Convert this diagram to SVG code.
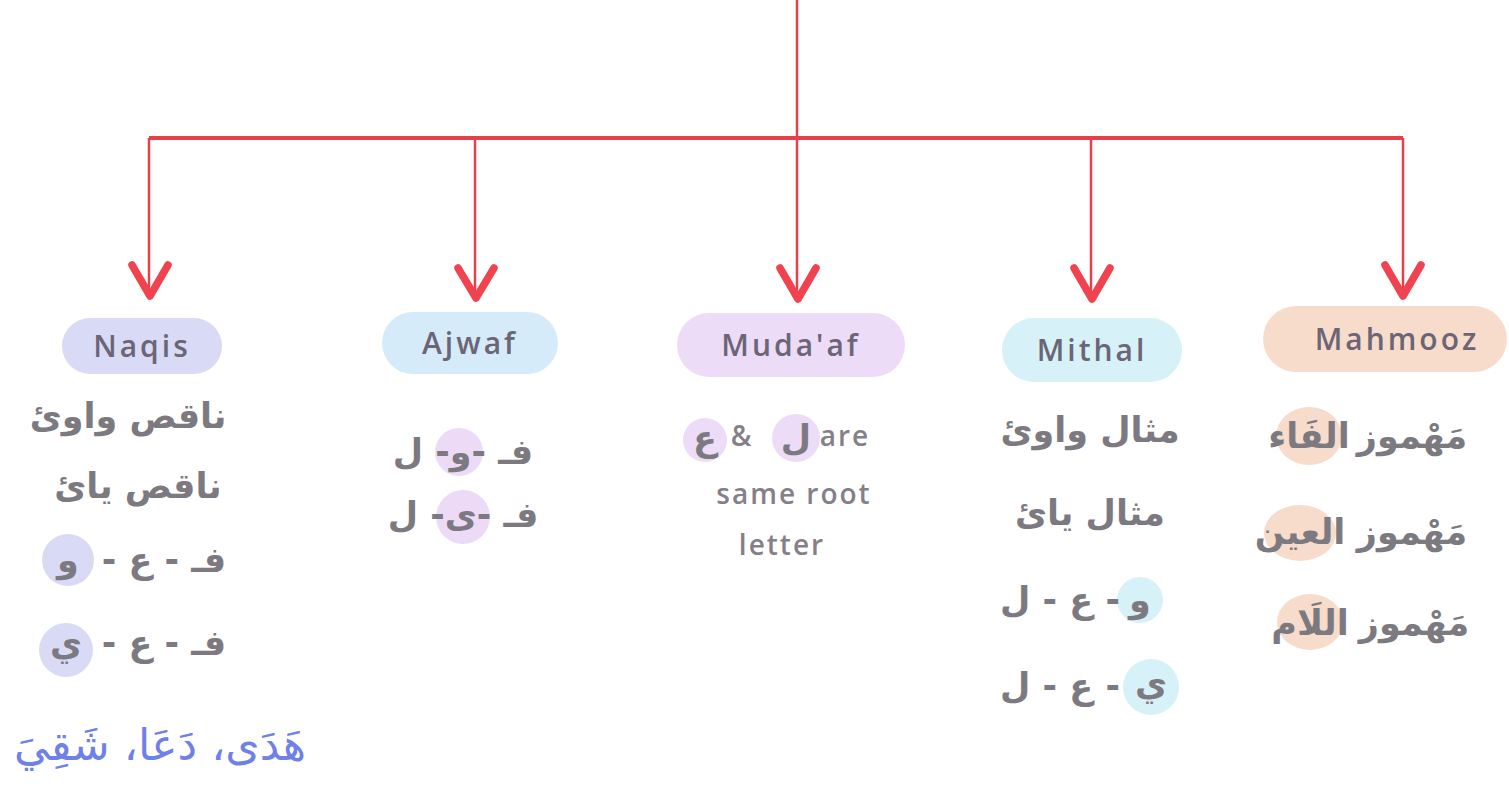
<svg xmlns="http://www.w3.org/2000/svg" width="1509" height="793" viewBox="0 0 1509 793">
<style>
.wire{fill:none;stroke:#e8404a;stroke-width:2.5}
.bar{fill:none;stroke:#e8404a;stroke-width:4}
.head{fill:none;stroke:#f0424f;stroke-width:7.5;stroke-linecap:round;stroke-linejoin:round}
.lab{font-family:"Open Sans","DejaVu Sans",sans-serif;font-size:30px;font-weight:600;fill:#6b6575;text-anchor:middle;letter-spacing:3px}
.ar{font-family:"DejaVu Sans",sans-serif;font-size:35px;font-weight:bold;fill:#7c7a80;text-anchor:middle;direction:rtl;unicode-bidi:embed}
.en{font-family:"Open Sans","DejaVu Sans",sans-serif;font-size:28px;font-weight:600;fill:#858088;text-anchor:middle;letter-spacing:2px}
.blue{font-family:"DejaVu Sans",sans-serif;font-size:44px;fill:#6f80e8;text-anchor:middle;direction:rtl;unicode-bidi:embed}
</style>
<rect width="1509" height="793" fill="#ffffff"/>
<g id="connectors">
<line class="wire" x1="797" y1="0" x2="797" y2="296"/>
<line class="bar" x1="149" y1="138" x2="1403" y2="138"/>
<line class="wire" x1="149" y1="138" x2="149" y2="296"/>
<line class="wire" x1="475" y1="138" x2="475" y2="296"/>
<line class="wire" x1="1091" y1="138" x2="1091" y2="296"/>
<line class="wire" x1="1403" y1="138" x2="1403" y2="296"/>
<polyline class="head" points="132,265 150,296 168,265"/>
<polyline class="head" points="458,268 476,298 494,268"/>
<polyline class="head" points="780,268 798,299 816,268"/>
<polyline class="head" points="1074,268 1092,299 1110,268"/>
<polyline class="head" points="1385,265 1403,296 1421,265"/>
</g>
<g id="naqis">
<rect x="62" y="318" width="160" height="56" rx="28" fill="#d9dbf6"/>
<text class="lab" x="142" y="357">Naqis</text>
<text class="ar" x="128" y="428">ناقص واوئ</text>
<text class="ar" x="138" y="498">ناقص یائ</text>
<circle cx="68" cy="560" r="26" fill="#d9dbf6"/>
<text class="ar" x="164" y="572">فـ - ع -</text>
<text class="ar" x="68" y="572">و</text>
<circle cx="66" cy="650" r="27" fill="#d9dbf6"/>
<text class="ar" x="164" y="655">فـ - ع -</text>
<text class="ar" x="66" y="655">ي</text>
<text class="blue" x="160" y="760">هَدَى، دَعَا، شَقِيَ</text>
</g>
<g id="ajwaf">
<rect x="382" y="312" width="176" height="62" rx="31" fill="#d6ebf9"/>
<text class="lab" x="470" y="354">Ajwaf</text>
<circle cx="459" cy="452" r="24" fill="#ecdaf6"/>
<text class="ar" x="463" y="464">فـ -و- ل</text>
<circle cx="463" cy="517" r="27" fill="#ecdaf6"/>
<text class="ar" x="463" y="527">فـ -ی- ل</text>
</g>
<g id="mudaaf">
<rect x="677" y="313" width="228" height="64" rx="32" fill="#ecdcf7"/>
<text class="lab" x="791" y="356">Muda'af</text>
<circle cx="705" cy="440" r="22" fill="#ecdcf7"/>
<circle cx="796" cy="438" r="24" fill="#ecdcf7"/>
<text class="ar" x="705" y="450">ع</text>
<text class="en" x="742" y="446">&amp;</text>
<text class="ar" x="796" y="450">ل</text>
<text class="en" x="845" y="446">are</text>
<text class="en" x="794" y="504">same root</text>
<text class="en" x="782" y="555">letter</text>
</g>
<g id="mithal">
<rect x="1002" y="318" width="180" height="64" rx="32" fill="#d6f1f8"/>
<text class="lab" x="1092" y="361">Mithal</text>
<text class="ar" x="1090" y="442">مثال واوئ</text>
<text class="ar" x="1090" y="525">مثال یائ</text>
<circle cx="1140" cy="600" r="23" fill="#d6f1f8"/>
<text class="ar" x="1060" y="612">- ع - ل</text>
<text class="ar" x="1140" y="612">و</text>
<circle cx="1151" cy="687" r="28" fill="#d6f1f8"/>
<text class="ar" x="1060" y="698">- ع - ل</text>
<text class="ar" x="1151" y="695">ي</text>
</g>
<g id="mahmooz">
<rect x="1263" y="306" width="244" height="66" rx="33" fill="#f8dccb"/>
<text class="lab" x="1397" y="350">Mahmooz</text>
<ellipse cx="1309" cy="436" rx="33" ry="29" fill="#f8dccb"/>
<text class="ar" x="1309" y="448">الفَاء</text>
<text class="ar" x="1412" y="448">مَهْموز</text>
<ellipse cx="1300" cy="533" rx="36" ry="28" fill="#f8dccb"/>
<text class="ar" x="1300" y="544">العين</text>
<text class="ar" x="1412" y="544">مَهْموز</text>
<ellipse cx="1310" cy="622" rx="33" ry="28" fill="#f8dccb"/>
<text class="ar" x="1310" y="635">اللَام</text>
<text class="ar" x="1414" y="635">مَهْموز</text>
</g>
</svg>
